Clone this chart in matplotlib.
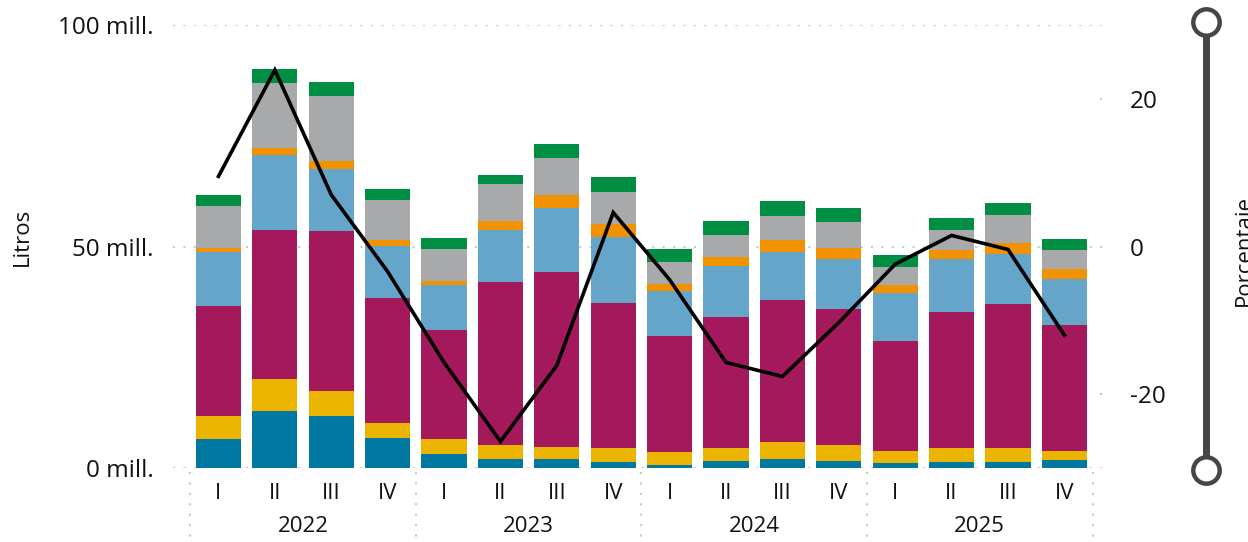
import matplotlib.pyplot as plt
import matplotlib.transforms as mtransforms
from matplotlib.lines import Line2D
import numpy as np

plt.rcParams['font.family'] = ['Open Sans', 'DejaVu Sans']

quarters = ['I', 'II', 'III', 'IV'] * 4
years = ['2022', '2023', '2024', '2025']

# stacked segments, millions of litres (bottom to top)
seg_blue = [6.5, 12.9, 11.7, 6.8, 3.2, 2.0, 2.0, 1.4, 0.7, 1.6, 2.0, 1.6, 1.1, 1.4, 1.4, 1.8]
seg_yellow = [5.2, 7.2, 5.7, 3.4, 3.3, 3.2, 2.7, 3.1, 2.9, 2.9, 3.9, 3.6, 2.7, 3.1, 3.1, 2.0]
seg_magenta = [24.9, 33.6, 36.1, 28.2, 24.7, 36.8, 39.5, 32.7, 26.2, 29.6, 32.0, 30.7, 24.9, 30.7, 32.5, 28.5]
seg_lightblue = [12.2, 17.0, 13.9, 11.8, 10.1, 11.7, 14.5, 14.9, 10.2, 11.6, 10.9, 11.3, 10.8, 12.0, 11.4, 10.4]
seg_orange = [0.9, 1.6, 1.9, 1.3, 0.9, 2.1, 2.9, 3.0, 1.5, 1.9, 2.7, 2.5, 1.7, 2.1, 2.4, 2.2]
seg_gray = [9.4, 14.6, 14.7, 9.0, 7.2, 8.3, 8.4, 7.2, 5.0, 5.0, 5.4, 5.9, 4.2, 4.4, 6.3, 4.3]
seg_green = [2.5, 3.2, 3.1, 2.5, 2.5, 2.0, 3.1, 3.4, 2.9, 3.2, 3.4, 3.1, 2.7, 2.7, 2.7, 2.5]

# percentage line (right axis)
pct = [9.5, 23.9, 7.0, -3.4, -15.7, -26.4, -16.1, 4.6, -4.5, -15.7, -17.6, -10.3, -2.4, 1.5, -0.4, -12.0]

segments = [seg_blue, seg_yellow, seg_magenta, seg_lightblue, seg_orange, seg_gray, seg_green]
colors = ['#0078A2', '#EBB400', '#A3195B', '#65A5CA', '#F39200', '#A8A9AA', '#008E42']

txt = '#111111'
grid_c = '#C8C8C8'
dots = (0, (1, 4))

fig = plt.figure(figsize=(12.48, 5.42), dpi=100)
ax = fig.add_axes([0.1386, 0.1365, 0.7468, 0.8174])

x = np.arange(len(quarters))
bottom = np.zeros(len(quarters))
for vals, c in zip(segments, colors):
    ax.bar(x, vals, width=0.8, bottom=bottom, color=c, linewidth=0, zorder=2)
    bottom += np.array(vals)

ax.set_xlim(-0.807, 15.72)
ax.set_ylim(0, 100)
ax.set_yticks([0, 50, 100])
ax.set_yticklabels(['0 mill.', '50 mill.', '100 mill.'])
for v in [0, 50, 100]:
    ax.axhline(v, color=grid_c, lw=1.5, ls=dots, zorder=1)
for s in ax.spines.values():
    s.set_visible(False)
ax.tick_params(axis='y', length=0, pad=14, labelsize=17.5, labelcolor=txt)
ax.set_xticks(x)
ax.set_xticklabels(quarters)
ax.tick_params(axis='x', length=0, pad=11, labelsize=16, labelcolor=txt)

trans = mtransforms.blended_transform_factory(ax.transData, ax.transAxes)
for b in [-0.5, 3.5, 7.5, 11.5, 15.5]:
    ax.plot([b, b], [-0.01, -0.156], transform=trans, clip_on=False,
            color=grid_c, lw=1.5, ls=dots)
for i, yr in enumerate(years):
    ax.text(4 * i + 1.5, -0.131, yr, transform=trans, ha='center', va='center',
            fontsize=16, color=txt)

ax2 = ax.twinx()
ax2.plot(x, pct, color='black', lw=2.6, zorder=5, solid_joinstyle='miter')
ax2.set_ylim(-30, 30)
ax2.set_yticks([-20, 0, 20])
ax2.set_yticklabels(['-20', '0', '20'])
for s in ax2.spines.values():
    s.set_visible(False)
ax2.tick_params(axis='y', length=0, pad=18, labelsize=17.5, labelcolor=txt)
trans2 = mtransforms.blended_transform_factory(ax2.transAxes, ax2.transData)
for v in [-20, 0, 20]:
    ax2.plot([0.9946, 1.0054], [v, v], transform=trans2, clip_on=False,
             color=grid_c, lw=1.5, ls=dots)

fig.text(22 / 1248, 1 - 237 / 542, 'Litros', rotation=90, ha='center', va='center',
         fontsize=16, color=txt)
fig.text(1244 / 1248, 1 - 250 / 542, 'Porcentaje', rotation=90, ha='center', va='center',
         fontsize=16, color=txt)

# slider on the right
sx = 1206 / 1248
fig.add_artist(Line2D([sx, sx], [1 - 22 / 542, 1 - 470 / 542], transform=fig.transFigure,
                      color='#464646', lw=5, solid_capstyle='butt'))
fig.add_artist(Line2D([sx, sx], [1 - 22 / 542, 1 - 470 / 542], transform=fig.transFigure,
                      ls='none', marker='o', markersize=19, markerfacecolor='white',
                      markeredgecolor='#464646', markeredgewidth=3.2))

fig.savefig('out.png', dpi=100)
